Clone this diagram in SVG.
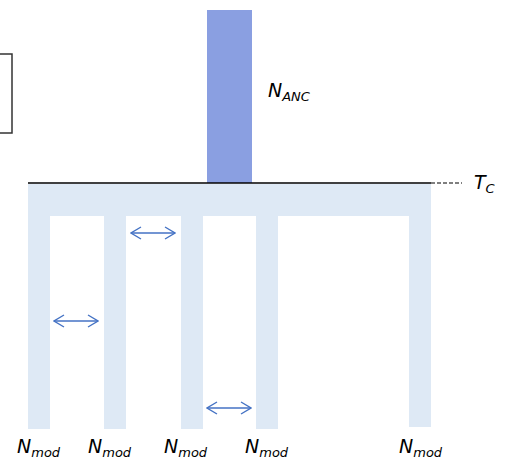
<svg xmlns="http://www.w3.org/2000/svg" width="509" height="465" viewBox="0 0 509 465">
<style>
.pop{fill:#DEE9F5}
.lbl{font-family:"DejaVu Sans",sans-serif;font-style:italic;font-size:19px;fill:#000}
.sub{font-size:13px}
.arr{stroke:#4472C4;stroke-width:1.5;fill:none}
</style>
<defs>
<marker id="h" viewBox="0 0 12 14" refX="11" refY="7" markerWidth="12" markerHeight="14" markerUnits="userSpaceOnUse" orient="auto-start-reverse">
<path d="M1,1 L11,7 L1,13" fill="none" stroke="#4472C4" stroke-width="1.4"/>
</marker>
</defs>
<g id="legend-box"><rect x="-10" y="54" width="22" height="79" fill="none" stroke="#333" stroke-width="1.5"/></g>
<g id="ancestral"><rect x="207" y="10" width="45" height="173" fill="#8A9FE1"/></g>
<g id="tree">
<rect class="pop" x="28" y="184" width="403" height="32"/>
<rect class="pop" x="28" y="184" width="22" height="245"/>
<rect class="pop" x="104" y="184" width="22" height="245"/>
<rect class="pop" x="181" y="184" width="22" height="245"/>
<rect class="pop" x="256" y="184" width="22" height="245"/>
<rect class="pop" x="409" y="184" width="22" height="243"/>
</g>
<g id="connectors">
<line x1="28" y1="183" x2="431" y2="183" stroke="#000" stroke-width="1.5"/>
<line x1="431" y1="183" x2="462" y2="183" stroke="#000" stroke-width="1.2" stroke-dasharray="4,2"/>
<line class="arr" x1="54" y1="321" x2="98" y2="321" marker-start="url(#h)" marker-end="url(#h)"/>
<line class="arr" x1="131" y1="233" x2="175" y2="233" marker-start="url(#h)" marker-end="url(#h)"/>
<line class="arr" x1="207" y1="408" x2="251" y2="408" marker-start="url(#h)" marker-end="url(#h)"/>
</g>
<g id="labels">
<text class="lbl" x="268" y="97">N<tspan class="sub" dy="4">ANC</tspan></text>
<text class="lbl" x="474" y="189">T<tspan class="sub" dy="4">C</tspan></text>
<text class="lbl" x="17" y="453">N<tspan class="sub" dy="4">mod</tspan></text>
<text class="lbl" x="88" y="453">N<tspan class="sub" dy="4">mod</tspan></text>
<text class="lbl" x="164" y="453">N<tspan class="sub" dy="4">mod</tspan></text>
<text class="lbl" x="245" y="453">N<tspan class="sub" dy="4">mod</tspan></text>
<text class="lbl" x="399" y="453">N<tspan class="sub" dy="4">mod</tspan></text>
</g>
</svg>
